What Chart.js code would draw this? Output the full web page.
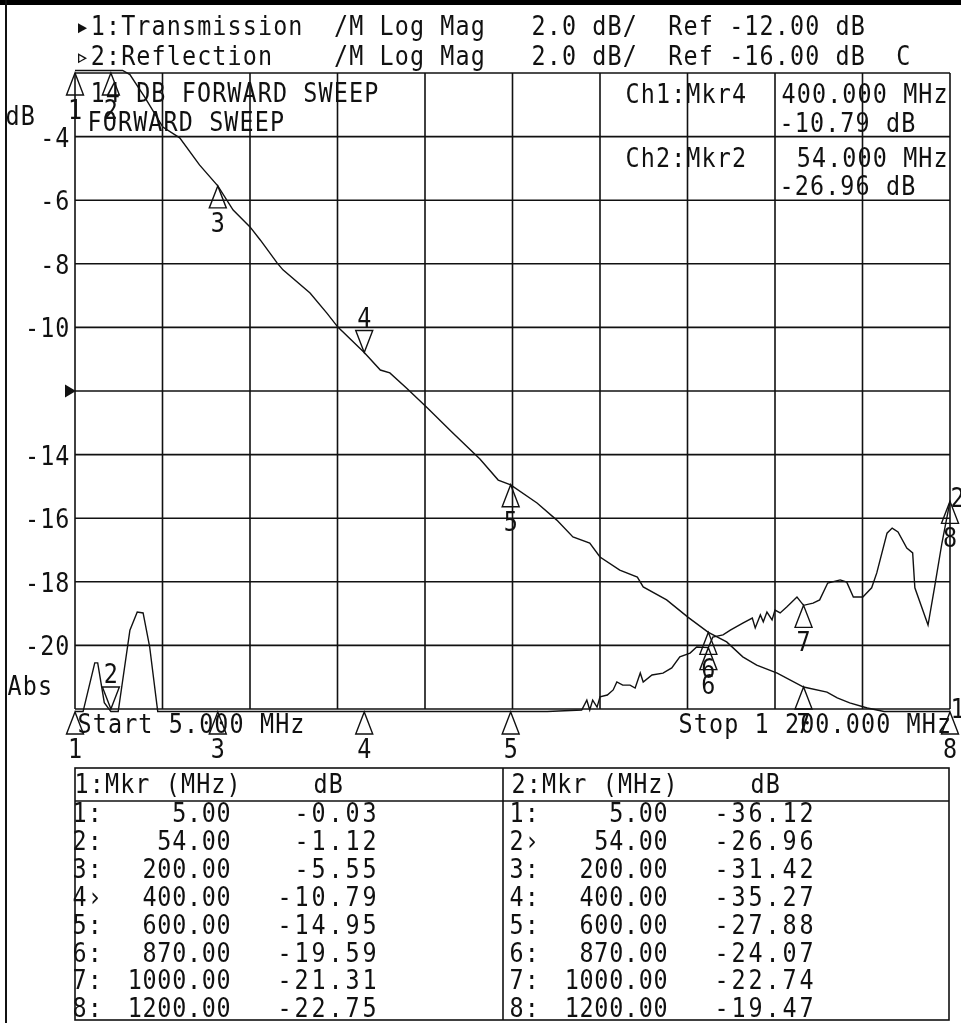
<!DOCTYPE html>
<html><head><meta charset="utf-8">
<script src="https://cdn.jsdelivr.net/npm/chart.js@4.4.0/dist/chart.umd.min.js"></script>
<style>html,body{margin:0;padding:0;background:#fff;}canvas{display:block;}</style>
</head><body>
<canvas id="c" width="961" height="1023"></canvas>
<script>
// ---- data ----
const startMHz = 5, stopMHz = 1200;
const ch1Ref = -12, ch2Ref = -16, dbPerDiv = 2;
const yTicks = [-4, -6, -8, -10, -14, -16, -18, -20];

const freqT = [5, 30, 54, 70, 80, 100, 125, 148, 175, 200, 221, 244, 258, 281, 289, 326, 349, 364, 400, 422, 435, 458, 486, 520, 558, 583, 600, 636, 663, 685, 708, 722, 749, 773, 781, 813, 842, 870, 895, 917, 936, 964, 1000, 1032, 1046, 1063, 1087, 1110, 1150, 1200];
const transT = [-0.03, -0.5, -1.12, -1.6, -2.05, -2.75, -3.70, -4.04, -4.89, -5.55, -6.31, -6.84, -7.25, -7.97, -8.19, -8.92, -9.55, -9.99, -10.79, -11.34, -11.43, -11.91, -12.53, -13.30, -14.14, -14.80, -14.95, -15.52, -16.06, -16.59, -16.78, -17.22, -17.63, -17.85, -18.16, -18.57, -19.11, -19.59, -19.89, -20.36, -20.62, -20.87, -21.31, -21.47, -21.65, -21.81, -21.97, -22.1, -22.4, -22.75];

const freqR = [5, 16, 32, 36, 45, 54, 64, 80, 90, 98, 107, 118, 150, 200, 300, 400, 500, 600, 650, 697, 704, 708, 712, 718, 722, 732, 740, 745, 753, 763, 770, 777, 781, 793, 808, 820, 831, 845, 854, 870, 876, 890, 900, 917, 930, 934, 941, 945, 950, 957, 961, 968, 977, 991, 1000, 1013, 1022, 1033, 1050, 1059, 1068, 1081, 1093, 1100, 1114, 1121, 1129, 1141, 1149, 1152, 1170, 1179, 1189, 1200];
const reflR = [-36.12, -26.3, -24.55, -24.55, -25.8, -26.96, -27.2, -23.52, -22.95, -22.98, -24.05, -27.0, -30.0, -31.42, -33.5, -35.27, -31.5, -27.88, -27.0, -26.03, -25.72, -26.03, -25.72, -25.94, -25.62, -25.56, -25.40, -25.15, -25.25, -25.25, -25.34, -24.87, -25.15, -24.93, -24.87, -24.71, -24.36, -24.24, -24.05, -24.07, -23.74, -23.67, -23.52, -23.30, -23.14, -23.45, -23.04, -23.26, -22.95, -23.20, -22.89, -22.98, -22.79, -22.48, -22.74, -22.67, -22.57, -22.04, -21.94, -22.01, -22.48, -22.48, -22.19, -21.72, -20.47, -20.31, -20.43, -20.94, -21.09, -22.19, -23.36, -22.16, -20.78, -19.47];

const mkrFreq = [5, 54, 200, 400, 600, 870, 1000, 1200];
const mkrT = [-0.03, -1.12, -5.55, -10.79, -14.95, -19.59, -21.31, -22.75];
const mkrR = [-36.12, -26.96, -31.42, -35.27, -27.88, -24.07, -22.74, -19.47];
const activeT = 3, activeR = 1;

const headerLines = [
  "\u25B81:Transmission  /M Log Mag   2.0 dB/  Ref -12.00 dB",
  "\u25B92:Reflection    /M Log Mag   2.0 dB/  Ref -16.00 dB  C"
];
const titleLines = ["14 DB FORWARD SWEEP", "FORWARD SWEEP"];

// ---- scales ----
const y1Max = ch1Ref + 5 * dbPerDiv, y1Min = ch1Ref - 5 * dbPerDiv;
const y2Max = ch2Ref + 5 * dbPerDiv, y2Min = ch2Ref - 5 * dbPerDiv;
const clampTo = (v, lo, hi) => Math.min(hi + 0.08, Math.max(lo - 0.08, v));

const FONT = '"DejaVu Sans Mono", monospace';
const FS = 26, P = 15.2, SX = 0.9, INK = '#111';

function txt(ctx, s, x0, base, pitch, size) {
  ctx.save();
  ctx.fillStyle = INK;
  ctx.font = (size || FS) + 'px ' + FONT;
  ctx.textAlign = 'center'; ctx.textBaseline = 'alphabetic';
  const p = pitch || P;
  for (let i = 0; i < s.length; i++) {
    const ch = s[i]; if (ch === ' ') continue;
    ctx.save(); ctx.translate(x0 + (i + 0.5) * p, base); ctx.scale(SX, 1); ctx.fillText(ch, 0, 0); ctx.restore();
  }
  ctx.restore();
}
function txtR(ctx, s, xEnd, base, pitch, size) { txt(ctx, s, xEnd - s.length * (pitch || P), base, pitch, size); }
function line(ctx, x1, y1, x2, y2) { ctx.beginPath(); ctx.moveTo(x1, y1); ctx.lineTo(x2, y2); ctx.stroke(); }

const gridPlugin = {
  id: 'grid',
  beforeDatasetsDraw(chart) {
    const ctx = chart.ctx, xs = chart.scales.x, ys = chart.scales.y;
    const a = chart.chartArea;
    ctx.save();
    ctx.fillStyle = '#fff'; ctx.fillRect(0, 0, chart.width, chart.height);
    ctx.strokeStyle = '#111'; ctx.lineWidth = 1.6;
    for (let i = 0; i <= 10; i++) {
      const px = xs.getPixelForValue(startMHz + i * (stopMHz - startMHz) / 10);
      line(ctx, px, a.top, px, a.bottom);
    }
    for (let v = y1Min; v <= y1Max; v += dbPerDiv) {
      const py = ys.getPixelForValue(v);
      line(ctx, a.left, py, a.right, py);
    }
    ctx.fillStyle = '#000';
    ctx.fillRect(0, 0, chart.width, 5);
    ctx.lineWidth = 2;
    line(ctx, 6, 0, 6, chart.height);
    ctx.restore();
  }
};

function tri(ctx, x, tipY, down) {
  const w = 8.5, h = 22;
  const by = down ? tipY - h : tipY + h;
  ctx.beginPath(); ctx.moveTo(x, tipY); ctx.lineTo(x - w, by); ctx.lineTo(x + w, by); ctx.closePath(); ctx.stroke();
}

function drawMarkers(chart, vals, yId, lo, hi, active) {
  const ctx = chart.ctx, xs = chart.scales.x, ys = chart.scales[yId];
  const a = chart.chartArea;
  ctx.save(); ctx.strokeStyle = INK; ctx.lineWidth = 1.4;
  mkrFreq.forEach((f, i) => {
    const px = xs.getPixelForValue(f);
    const v = vals[i], lab = String(i + 1);
    let tip, down = (i === active);
    if (v > hi) { tip = a.top; down = false; }
    else if (v < lo) { tip = down ? a.bottom : a.bottom + 3; }
    else tip = ys.getPixelForValue(v);
    tri(ctx, px, tip, down);
    const base = down ? tip - 26 : tip + 46;
    txt(ctx, lab, px - P / 2, base);
  });
  ctx.restore();
}

const overlayPlugin = {
  id: 'overlay',
  afterDatasetsDraw(chart) {
    const ctx = chart.ctx, ys = chart.scales.y, ys2 = chart.scales.y2;
    const a = chart.chartArea;
    txt(ctx, headerLines[0], 75, 35);
    txt(ctx, headerLines[1], 75, 65);
    txt(ctx, titleLines[0], 90, 102);
    txt(ctx, titleLines[1], 87, 131);
    txt(ctx, 'Ch1:Mkr' + (activeT + 1), 625, 103);
    txt(ctx, mkrFreq[activeT].toFixed(3) + ' MHz', 781, 103);
    txt(ctx, mkrT[activeT].toFixed(2) + ' dB', 779, 132);
    txt(ctx, 'Ch2:Mkr' + (activeR + 1), 625, 167);
    txt(ctx, ' ' + mkrFreq[activeR].toFixed(3) + ' MHz', 781, 167);
    txt(ctx, mkrR[activeR].toFixed(2) + ' dB', 779, 195);
    txt(ctx, 'dB', 5, 125);
    txt(ctx, 'Abs', 7, 695);
    yTicks.forEach(v => txtR(ctx, String(v), 70, ys.getPixelForValue(v) + 10));
    const ry = ys.getPixelForValue(ch1Ref);
    ctx.save(); ctx.fillStyle = INK; ctx.beginPath();
    ctx.moveTo(a.left + 1, ry); ctx.lineTo(a.left - 10, ry - 6.5); ctx.lineTo(a.left - 10, ry + 6.5); ctx.closePath(); ctx.fill(); ctx.restore();
    txt(ctx, 'Start ' + startMHz.toFixed(3) + ' MHz', 77, 733);
    txt(ctx, 'Stop 1 200.000 MHz', 678, 733);
    drawMarkers(chart, mkrT, 'y', y1Min, y1Max, activeT);
    drawMarkers(chart, mkrR, 'y2', y2Min, y2Max, activeR);
    const eT = ys.getPixelForValue(clampTo(transT[transT.length - 1], y1Min, y1Max));
    const eR = ys2.getPixelForValue(clampTo(reflR[reflR.length - 1], y2Min, y2Max));
    txt(ctx, '1', 950, eT + 6);
    txt(ctx, '2', 950, eR + 6);
    ctx.save(); ctx.strokeStyle = INK; ctx.lineWidth = 1.6;
    const tL = 75, tM = 503, tR = 949, tT = 768, tS = 801, tB = 1020;
    ctx.strokeRect(tL, tT, tR - tL, tB - tT);
    line(ctx, tM, tT, tM, tB);
    line(ctx, tL, tS, tR, tS);
    ctx.restore();
    const tables = [{off: 0, ch: 1, vals: mkrT, act: activeT}, {off: 437, ch: 2, vals: mkrR, act: activeR}];
    tables.forEach(t => {
      txt(ctx, t.ch + ':Mkr (MHz)', 74 + t.off, 793);
      txt(ctx, 'dB', 313 + t.off, 793);
      mkrFreq.forEach((f, i) => {
        const b = 822 + i * 27.9;
        txt(ctx, (i + 1) + (i === t.act ? '\u203A' : ':'), 72 + t.off, b);
        txtR(ctx, f.toFixed(2), 231 + t.off, b, 14.8);
        txtR(ctx, t.vals[i].toFixed(2), 378 + t.off, b, 17);
      });
    });
  }
};

new Chart(document.getElementById('c').getContext('2d'), {
  type: 'line',
  data: {
    datasets: [
      {data: freqT.map((f, i) => ({x: f, y: clampTo(transT[i], y1Min, y1Max)})), yAxisID: 'y',
       borderColor: INK, borderWidth: 1.4, pointRadius: 0, tension: 0, clip: false},
      {data: freqR.map((f, i) => ({x: f, y: clampTo(reflR[i], y2Min, y2Max)})), yAxisID: 'y2',
       borderColor: INK, borderWidth: 1.4, pointRadius: 0, tension: 0, clip: false}
    ]
  },
  options: {
    responsive: false, animation: false, devicePixelRatio: 1, events: [],
    layout: {padding: {left: 75, top: 73, right: 11, bottom: 314}},
    plugins: {legend: {display: false}, tooltip: {enabled: false}},
    scales: {
      x: {type: 'linear', min: startMHz, max: stopMHz, display: false},
      y: {min: y1Min, max: y1Max, display: false},
      y2: {min: y2Min, max: y2Max, display: false}
    }
  },
  plugins: [gridPlugin, overlayPlugin]
});
</script>
</body></html>
